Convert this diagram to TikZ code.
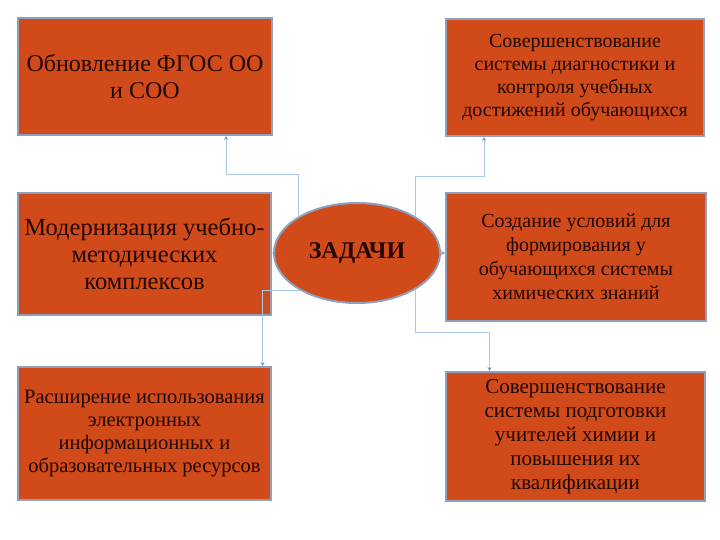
\documentclass[tikz,border=0pt]{standalone}
\usepackage{fontspec}
\setmainfont{Liberation Serif}
\usetikzlibrary{shapes.geometric,arrows.meta}
\definecolor{boxfill}{HTML}{D04A1A}
\definecolor{boxline}{HTML}{8EA0BC}
\definecolor{txt}{HTML}{220802}
\definecolor{conn}{HTML}{A9C8E6}
\definecolor{tipc}{HTML}{7F98C0}
\tikzset{
  task/.style={draw=boxline, line width=2pt, fill=boxfill, text=txt, align=center, inner sep=0pt, anchor=north west},
  link/.style={draw=conn, line width=1pt, -{Stealth[length=4pt,width=4pt,color=tipc]}},
}
\begin{document}
\begin{tikzpicture}[x=1pt,y=-1pt]
\useasboundingbox (0,0) rectangle (720,540);
\node[task, minimum width=254, minimum height=117, font=\fontsize{24}{27}\selectfont] (tl) at (17,17) {Обновление ФГОС ОО\\и СОО};
\node[task, minimum width=253, minimum height=122, font=\fontsize{24.5}{27}\selectfont] (ml) at (17,192) {Модернизация учебно-\\методических\\комплексов};
\node[task, minimum width=253, minimum height=133, font=\fontsize{20.5}{23}\selectfont] (bl) at (17,366) {Расширение использования\\электронных\\информационных и\\образовательных ресурсов};
\node[task, minimum width=258, minimum height=117, font=\fontsize{20}{23}\selectfont] (tr) at (445,18) {Совершенствование\\системы диагностики и\\контроля учебных\\достижений обучающихся};
\node[task, minimum width=260, minimum height=128, font=\fontsize{20}{24}\selectfont] (mr) at (445,192) {Создание условий для\\формирования у\\обучающихся системы\\химических знаний};
\node[task, minimum width=259, minimum height=129, font=\fontsize{21}{24}\selectfont] (br) at (445,371) {Совершенствование\\системы подготовки\\учителей химии и\\повышения их\\квалификации};
\node[ellipse, draw=boxline, line width=2pt, fill=boxfill, text=txt, minimum width=166, minimum height=100, inner sep=0pt, font=\fontsize{24}{27}\selectfont\bfseries] (z) at (357,253) {ЗАДАЧИ};
\draw[link] (z.148) -- (z.148 |- 0,175) -| ([xshift=81]tl.south);
\draw[link] (z.32) -- (z.32 |- 0,177) -| ([xshift=-91]tr.south);
\draw[link] (z.west) -- (ml.east |- z.west);
\draw[link] (z.east) -- (mr.west |- z.east);
\draw[link] (z.213) -| ([xshift=118]bl.north);
\draw[link] (z.328) -- (z.328 |- 0,332) -| ([xshift=-86]br.north);
\end{tikzpicture}
\end{document}
